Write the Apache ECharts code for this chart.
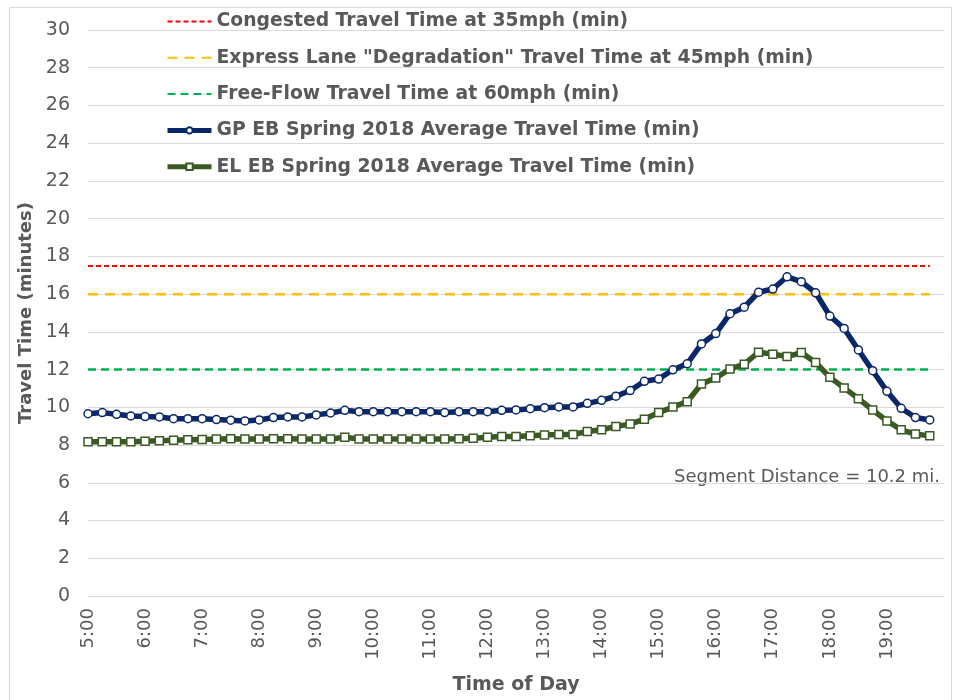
<!DOCTYPE html>
<html>
<head>
<meta charset="utf-8">
<script src="https://cdn.jsdelivr.net/npm/echarts@6/dist/echarts.min.js"></script>
<style>
  html, body { margin: 0; padding: 0; background: #fff; }
  #main { width: 956px; height: 700px; }
</style>
</head>
<body>
<div id="main"></div>
<script>
// 15-minute bins, 5:00 .. 20:00 (last one is only the axis end)
var times = ['5:00','5:15','5:30','5:45','6:00','6:15','6:30','6:45','7:00','7:15','7:30','7:45',
  '8:00','8:15','8:30','8:45','9:00','9:15','9:30','9:45','10:00','10:15','10:30','10:45',
  '11:00','11:15','11:30','11:45','12:00','12:15','12:30','12:45','13:00','13:15','13:30','13:45',
  '14:00','14:15','14:30','14:45','15:00','15:15','15:30','15:45','16:00','16:15','16:30','16:45',
  '17:00','17:15','17:30','17:45','18:00','18:15','18:30','18:45','19:00','19:15','19:30','19:45','20:00'];

var gpTimes = [9.66, 9.72, 9.63, 9.54, 9.51, 9.49, 9.40, 9.40, 9.40, 9.35, 9.32, 9.28,
  9.33, 9.46, 9.49, 9.49, 9.60, 9.70, 9.84, 9.77, 9.77, 9.77, 9.77, 9.77,
  9.77, 9.72, 9.77, 9.77, 9.77, 9.84, 9.86, 9.93, 9.98, 10.02, 10.02, 10.21,
  10.37, 10.59, 10.89, 11.38, 11.50, 11.99, 12.31, 13.36, 13.91, 14.96, 15.31, 16.10,
  16.27, 16.92, 16.66, 16.07, 14.84, 14.18, 13.04, 11.94, 10.85, 9.95, 9.46, 9.33];

var elTimes = [8.18, 8.18, 8.18, 8.18, 8.20, 8.23, 8.25, 8.28, 8.30, 8.32, 8.34, 8.32,
  8.32, 8.34, 8.34, 8.32, 8.32, 8.32, 8.41, 8.32, 8.32, 8.32, 8.32, 8.32,
  8.32, 8.32, 8.34, 8.36, 8.41, 8.46, 8.46, 8.50, 8.53, 8.56, 8.56, 8.72,
  8.81, 8.99, 9.11, 9.37, 9.72, 10.02, 10.30, 11.24, 11.56, 12.03, 12.29, 12.92,
  12.82, 12.69, 12.90, 12.38, 11.59, 11.03, 10.46, 9.86, 9.28, 8.81, 8.58, 8.49];

var congested = 17.49;  // 35 mph
var degradation = 16;   // 45 mph
var freeFlow = 12;      // 60 mph

var yTicks = [0, 30, 2];

var flat = function(v) {
  var res = [];
  for (var i = 0; i < gpTimes.length; i++) res.push(v);
  return res;
};

var textColor = '#595959';
var font = 'DejaVu Sans';

var names = [
  'Congested Travel Time at 35mph (min)',
  'Express Lane "Degradation" Travel Time at 45mph (min)',
  'Free-Flow Travel Time at 60mph (min)',
  'GP EB Spring 2018 Average Travel Time (min)',
  'EL EB Spring 2018 Average Travel Time (min)'
];

var myChart = echarts.init(document.getElementById('main'));

var option = {
  backgroundColor: '#fff',
  animation: false,
  textStyle: { fontFamily: font },
  grid: { left: 88, right: 12, top: 30, bottom: 98 },
  legend: {
    orient: 'vertical',
    left: 160,
    top: 7,
    itemWidth: 44,
    itemHeight: 8,
    itemGap: 17.3,
    textStyle: { fontSize: 18.8, fontWeight: 'bold', color: textColor, fontFamily: font },
    data: [
      { name: names[0], itemStyle: { opacity: 0 } },
      { name: names[1], itemStyle: { opacity: 0 } },
      { name: names[2], itemStyle: { opacity: 0 } },
      { name: names[3], lineStyle: { width: 5 } },
      { name: names[4], lineStyle: { width: 5 } }
    ]
  },
  xAxis: {
    type: 'category',
    data: times,
    boundaryGap: false,
    name: 'Time of Day',
    nameLocation: 'middle',
    nameGap: 80,
    nameTextStyle: { fontSize: 19, fontWeight: 'bold', color: textColor },
    axisLine: { lineStyle: { color: '#d9d9d9' } },
    axisTick: { show: false },
    axisLabel: {
      rotate: 90,
      fontSize: 18,
      color: textColor,
      margin: 12,
      interval: function(idx) { return idx % 4 === 0 && idx < 60; }
    },
    splitLine: { show: false }
  },
  yAxis: {
    type: 'value',
    min: yTicks[0],
    max: yTicks[1],
    interval: yTicks[2],
    name: 'Travel Time (minutes)',
    nameLocation: 'middle',
    nameGap: 48,
    nameTextStyle: { fontSize: 18, fontWeight: 'bold', color: textColor },
    axisLine: { show: false },
    axisTick: { show: false },
    axisLabel: { fontSize: 19, color: textColor, margin: 18 },
    splitLine: { lineStyle: { color: '#d9d9d9', width: 1 } }
  },
  graphic: [
    {
      type: 'rect',
      left: 7, top: 5,
      shape: { width: 942, height: 700 },
      style: { fill: 'none', stroke: '#d9d9d9', lineWidth: 1 },
      silent: true
    },
    {
      type: 'text',
      right: 16, top: 468,
      style: { text: 'Segment Distance = 10.2 mi.', fontSize: 18, fill: textColor, fontFamily: font }
    }
  ],
  series: [
    {
      name: names[0],
      type: 'line',
      data: flat(congested),
      symbol: 'none',
      color: '#ff0000',
      lineStyle: { color: '#ff0000', width: 2, type: [5, 3] }
    },
    {
      name: names[1],
      type: 'line',
      data: flat(degradation),
      symbol: 'none',
      color: '#ffc000',
      lineStyle: { color: '#ffc000', width: 2.5, type: [10, 7] }
    },
    {
      name: names[2],
      type: 'line',
      data: flat(freeFlow),
      symbol: 'none',
      color: '#00b050',
      lineStyle: { color: '#00b050', width: 2.5, type: [8, 5] }
    },
    {
      name: names[3],
      type: 'line',
      data: gpTimes,
      symbol: 'circle',
      symbolSize: 8,
      color: '#0a2868',
      lineStyle: { color: '#0a2868', width: 5.5 },
      itemStyle: { color: '#fff', borderColor: '#0a2868', borderWidth: 1.5 }
    },
    {
      name: names[4],
      type: 'line',
      data: elTimes,
      symbol: 'rect',
      symbolSize: 8,
      color: '#3a5a23',
      lineStyle: { color: '#3a5a23', width: 5.5 },
      itemStyle: { color: '#fff', borderColor: '#3a5a23', borderWidth: 1.5 }
    }
  ]
};

myChart.setOption(option);
</script>
</body>
</html>
